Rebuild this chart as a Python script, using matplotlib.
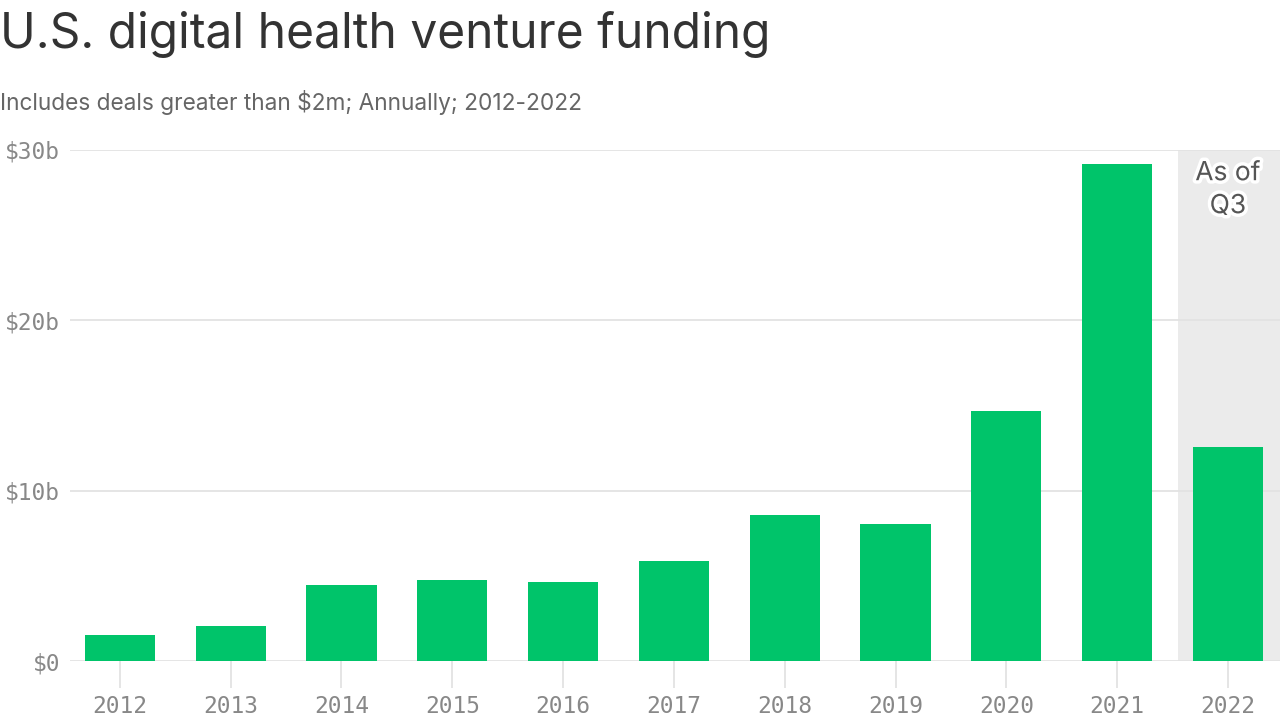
import matplotlib
matplotlib.use("Agg")
import matplotlib.pyplot as plt
import matplotlib.patheffects as pe

years = ["2012", "2013", "2014", "2015", "2016", "2017", "2018", "2019", "2020", "2021", "2022"]
funding = [1.55, 2.05, 4.45, 4.75, 4.65, 5.9, 8.55, 8.05, 14.65, 29.15, 12.55]
yticks = [0, 10, 20, 30]
ytick_labels = ["$0", "$10b", "$20b", "$30b"]

GREEN = "#00C46A"
GRID = "#e3e3e3"
TICK = "#888888"

fig = plt.figure(figsize=(12.8, 7.2), dpi=100)
ax = fig.add_axes([0.0547, 0.0819, 0.9453, 0.7098])

x = list(range(len(years)))
ax.axvspan(9.55, 10.6, color="#ebebeb", zorder=0, lw=0)
ax.bar(x, funding, width=0.635, color=GREEN, zorder=3)

ax.set_xlim(-0.45, 10.47)
ax.set_ylim(0, 30)
ax.set_yticks(yticks)
ax.set_yticklabels(ytick_labels)
ax.set_xticks(x)
ax.set_xticklabels(years)
ax.yaxis.grid(True, color=GRID, lw=1.3, zorder=1)
ax.set_axisbelow(True)
for s in ax.spines.values():
    s.set_visible(False)
ax.tick_params(axis="y", length=0, pad=7, labelsize=16.5, labelcolor=TICK)
ax.tick_params(axis="x", length=19.5, width=1.3, color=GRID, pad=5, labelsize=16.5, labelcolor=TICK)
for lab in ax.get_xticklabels() + ax.get_yticklabels():
    lab.set_fontfamily("DejaVu Sans Mono")

ax.text(10, 29.4, "As of\nQ3", ha="center", va="top", fontsize=19, color="#555555",
        family="Inter", linespacing=1.35,
        path_effects=[pe.withStroke(linewidth=5, foreground="white")], zorder=5)

fig.text(0.0, 0.952, "U.S. digital health venture funding", fontsize=34.5, color="#333333",
         family="Inter", ha="left", va="center")
fig.text(0.0, 0.858, "Includes deals greater than $2m; Annually; 2012-2022", fontsize=16.3,
         color="#666666", family="Inter", ha="left", va="center")

fig.savefig("out.png", dpi=100)
